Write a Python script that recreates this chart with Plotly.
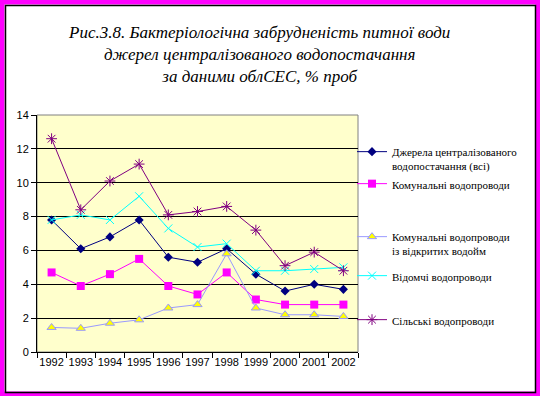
import plotly.graph_objects as go

years = ["1992", "1993", "1994", "1995", "1996", "1997", "1998", "1999", "2000", "2001", "2002"]
dzherela = [7.8, 6.1, 6.8, 7.8, 5.6, 5.3, 6.1, 4.6, 3.6, 4.0, 3.7]
komunalni = [4.7, 3.9, 4.6, 5.5, 3.9, 3.4, 4.7, 3.1, 2.8, 2.8, 2.8]
komunalni_vidkr = [1.45, 1.4, 1.7, 1.9, 2.6, 2.8, 5.8, 2.6, 2.2, 2.2, 2.1]
vidomchi = [7.8, 8.1, 7.8, 9.2, 7.3, 6.2, 6.4, 4.8, 4.8, 4.9, 5.0]
silski = [12.6, 8.4, 10.1, 11.1, 8.1, 8.3, 8.6, 7.2, 5.1, 5.9, 4.8]

names = [
    "Джерела централізованого<br>водопостачання (всі)",
    "Комунальні водопроводи",
    "Комунальні водопроводи<br>із відкритих водойм",
    "Відомчі водопроводи",
    "Сільські водопроводи",
]
title_lines = [
    "Рис.3.8. Бактеріологічна забрудненість питної води",
    "джерел централізованого водопостачання",
    "за даними облСЕС, % проб",
]
yticks = [0, 2, 4, 6, 8, 10, 12, 14]

W, H = 540, 396
L, R, T, B = 37, 358, 115, 352

def px(x):
    return (x - L) / (R - L)

def py(y):
    return (B - y) / (B - T)

series = [
    (dzherela, dict(color="#000080", width=1), dict(symbol="diamond", size=7, color="#000080")),
    (komunalni, dict(color="#FF00FF", width=1), dict(symbol="square", size=8, color="#FF00FF")),
    (komunalni_vidkr, dict(color="#9999FF", width=1), dict(symbol="triangle-up", size=8, color="#FFFF00", line=dict(color="#9999FF", width=1))),
    (vidomchi, dict(color="#00FFFF", width=1), dict(symbol="x-thin-open", size=8, color="#00FFFF", line=dict(color="#00FFFF", width=1))),
    (silski, dict(color="#800080", width=1), dict(symbol="asterisk-open", size=9, color="#800080", line=dict(color="#800080", width=1))),
]

fig = go.Figure()
legend_names = ["legend", "legend2", "legend3", "legend4", "legend5"]
legend_tops = [138, 170, 223, 262, 306]
for (vals, ln, mk), nm, lg in zip(series, names, legend_names):
    fig.add_trace(go.Scatter(x=years, y=vals, name=nm, mode="lines+markers",
                             line=ln, marker=mk, legend=lg))

legend_font = dict(family="Liberation Serif", size=11, color="black")
for lg, top in zip(legend_names, legend_tops):
    fig.layout[lg] = dict(x=px(352), xanchor="left", y=py(top), yanchor="top",
                          xref="paper", yref="paper", font=legend_font,
                          bgcolor="rgba(0,0,0,0)", borderwidth=0, valign="top",
                          itemwidth=30, tracegroupgap=0)

fig.update_layout(
    width=W, height=H,
    margin=dict(l=L, r=W - R, t=T, b=H - B, pad=0, autoexpand=False),
    paper_bgcolor="white",
    plot_bgcolor="#FFFFCC",
    showlegend=True,
    xaxis=dict(type="category", tickson="boundaries", ticks="outside", ticklen=5,
               tickcolor="black", showline=True, linecolor="black", linewidth=1,
               showgrid=False, tickangle=0, automargin=False,
               tickfont=dict(family="Liberation Sans", size=11, color="black"),
               range=[-0.5, 10.5], fixedrange=True),
    yaxis=dict(range=[0, 14], tickvals=yticks, ticks="outside", ticklen=5,
               tickcolor="black", showline=True, linecolor="black", linewidth=1,
               showgrid=True, gridcolor="black", gridwidth=1, zeroline=False,
               automargin=False,
               tickfont=dict(family="Liberation Sans", size=11, color="black")),
)

shapes = [
    dict(type="rect", xref="paper", yref="paper", x0=0, x1=1, y0=0, y1=1,
         line=dict(color="#808080", width=1), layer="below"),
    dict(type="rect", xref="paper", yref="paper", x0=px(2), x1=px(538), y0=py(2), y1=py(394),
         line=dict(color="#FF00FF", width=5), layer="above"),
    dict(type="rect", xref="paper", yref="paper", x0=px(5.5), x1=px(535.5), y0=py(5.5), y1=py(392.5),
         line=dict(color="black", width=1.5), layer="above"),
]
fig.update_layout(shapes=shapes)

fig.add_annotation(text="<br>".join(title_lines), xref="paper", yref="paper",
                   x=px(259), y=py(21), xanchor="center", yanchor="top", showarrow=False,
                   align="center", font=dict(family="Liberation Serif", size=17, color="black",
                                             style="italic"))

fig.write_html("out.html", config={"displayModeBar": False},
               post_script="document.body.style.margin='0';document.body.style.overflow='hidden';")
